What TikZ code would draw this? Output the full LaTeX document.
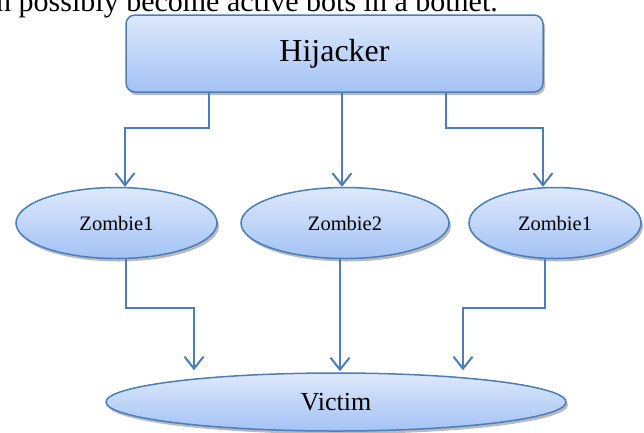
\documentclass[tikz,border=0pt]{standalone}
\usepackage{fontspec}
\setmainfont{Liberation Serif}
\usepackage{tikz}
\usetikzlibrary{arrows.meta,positioning,shapes.geometric,shadows}

\definecolor{edgeblue}{HTML}{4A7EBB}
\definecolor{lightblue}{HTML}{DEE9FC}
\definecolor{midblue}{HTML}{A3C2F5}

\tikzset{
	boxshade/.style={draw=edgeblue,line width=1.5pt,top color=lightblue,bottom color=midblue,
		drop shadow={shadow xshift=2pt,shadow yshift=-3pt,fill=black!45,opacity=0.6}},
	hijbox/.style={boxshade,rectangle,rounded corners=9pt,minimum width=417pt,minimum height=77pt,inner sep=0pt},
	zombienode/.style={boxshade,ellipse,minimum width=201pt,minimum height=71pt,inner sep=0pt,font=\fontsize{20.5}{24}\selectfont},
	link/.style={draw=edgeblue,line width=2pt,-{Straight Barb[length=12pt,width=19pt,line width=2pt]}}
}

\begin{document}
\begin{tikzpicture}[x=1pt,y=-1pt]
		\useasboundingbox (0,0) rectangle (644,432);
		% text line cut by the top edge
		\node(txt) [anchor=base east,inner sep=0pt,font=\fontsize{30}{34}\selectfont] at (498,11) {n possibly become active bots in a botnet.};
		% nodes
		\node(hij) [hijbox,font=\fontsize{32}{36}\selectfont] at (334.5,53.5) {Hijacker};
		\node(z1) [zombienode] at (116.5,223) {Zombie1};
		\node(z2) [zombienode,minimum width=208pt] at (345,223) {Zombie2};
		\node(z3) [zombienode,minimum width=172pt] at (555,223) {Zombie1};
		\node(vic) [boxshade,ellipse,minimum width=460pt,minimum height=58pt,inner sep=0pt,font=\fontsize{26}{30}\selectfont] at (336,402) {Victim};
		% hijacker to zombies
		\draw[link] (hij.south -| 209,0) -- (209,128) -| (z1.north -| 125,0);
		\draw[link] (hij.south -| 342,0) -- (z2.north -| 342,0);
		\draw[link] (hij.south -| 446,0) -- (446,128) -| (z3.north -| 543,0);
		% zombies to victim
		\draw[link] (z1.south -| 126,0) -- (126,308) -| ([yshift=2pt]vic.north -| 194,0);
		\draw[link] (z2.south -| 340,0) -- ([yshift=1pt]vic.north -| 340,0);
		\draw[link] (z3.south -| 545,0) -- (545,308) -| ([yshift=2pt]vic.north -| 463,0);
	\end{tikzpicture}
\end{document}
